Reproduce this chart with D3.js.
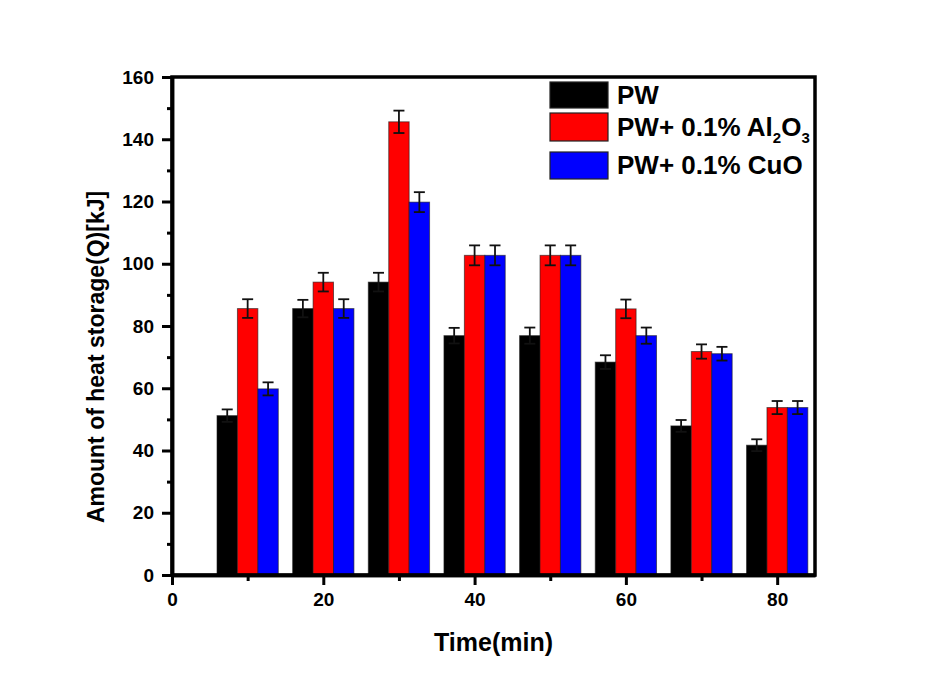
<!DOCTYPE html>
<html>
<head>
<meta charset="utf-8">
<script src="https://cdn.jsdelivr.net/npm/d3@7"></script>
<style>
  body { margin: 0; background: #ffffff; }
  svg { display: block; font-family: "Liberation Sans", Arial, sans-serif; }
</style>
</head>
<body>
<svg id="chart" width="929" height="689"></svg>
<script>
// Heating time (min) for each group of bars
const times = [10, 20, 30, 40, 50, 60, 70, 80];

// Amount of heat stored, kJ
const pwValues   = [51.2, 85.6, 94.1, 76.9, 76.9, 68.4, 47.9, 41.7];
const alValues   = [85.6, 94.1, 145.6, 102.7, 102.7, 85.5, 71.8, 53.8];
const cuoValues  = [59.8, 85.6, 119.8, 102.7, 102.7, 76.9, 71.1, 53.8];

// Error bar half-heights, kJ
const pwErrors   = [2.0, 2.8, 3.0, 2.5, 2.6, 2.2, 1.9, 1.9];
const alErrors   = [3.0, 3.0, 3.6, 3.2, 3.2, 3.0, 2.3, 2.1];
const cuoErrors  = [2.1, 3.0, 3.2, 3.2, 3.2, 2.6, 2.2, 2.1];

const seriesColors = ["#000000", "#ff0000", "#0000ff"];

// Axis ticks
const xMajorTicks = [0, 20, 40, 60, 80];
const xMinorTicks = [10, 30, 50, 70];
const yMajorTicks = [0, 20, 40, 60, 80, 100, 120, 140, 160];
const yMinorTicks = [10, 30, 50, 70, 90, 110, 130, 150];

const series = [
  { values: pwValues,  errors: pwErrors,  color: seriesColors[0] },
  { values: alValues,  errors: alErrors,  color: seriesColors[1] },
  { values: cuoValues, errors: cuoErrors, color: seriesColors[2] }
];

const svg = d3.select("#chart");
const plot = { left: 172, right: 815, top: 77, bottom: 575 };

const x = d3.scaleLinear().domain([0, 85]).range([plot.left, plot.right]);
const y = d3.scaleLinear().domain([0, 160]).range([plot.bottom, plot.top]);

const barWidth = 2.7;           // in minutes
const capHalf = 5.5;            // px

// Bars
series.forEach((s, si) => {
  const offset = (si - 1) * barWidth;
  const g = svg.append("g");
  g.selectAll("rect")
    .data(times.map((t, i) => ({ t, v: s.values[i], e: s.errors[i] })))
    .join("rect")
    .attr("x", d => x(d.t + offset - barWidth / 2))
    .attr("width", d => x(d.t + offset + barWidth / 2) - x(d.t + offset - barWidth / 2))
    .attr("y", d => y(d.v))
    .attr("height", d => y(0) - y(d.v))
    .attr("fill", s.color)
    .attr("stroke", "#1a1a1a")
    .attr("stroke-opacity", 0.6)
    .attr("stroke-width", 1);

  // Error bars
  const eg = svg.append("g").attr("stroke", "#111").attr("stroke-width", 1.8).attr("fill", "none");
  times.forEach((t, i) => {
    const cx = x(t + offset);
    const top = y(s.values[i] + s.errors[i]);
    const bot = y(s.values[i] - s.errors[i]);
    eg.append("line").attr("x1", cx).attr("x2", cx).attr("y1", top).attr("y2", bot);
    eg.append("line").attr("x1", cx - capHalf).attr("x2", cx + capHalf).attr("y1", top).attr("y2", top);
    eg.append("line").attr("x1", cx - capHalf).attr("x2", cx + capHalf).attr("y1", bot).attr("y2", bot);
  });
});

// Frame
svg.append("rect")
  .attr("x", plot.left).attr("y", plot.top)
  .attr("width", plot.right - plot.left).attr("height", plot.bottom - plot.top)
  .attr("fill", "none").attr("stroke", "#000").attr("stroke-width", 3.5);

function styleAxis(g, fontSize) {
  g.select(".domain").attr("stroke", "#000").attr("stroke-width", 3.5);
  g.selectAll(".tick line").attr("stroke", "#000").attr("stroke-width", 3);
  g.selectAll(".tick text")
    .attr("fill", "#000")
    .style("font-size", fontSize + "px")
    .style("font-weight", "bold");
}

// Y axis
const yMinor = svg.append("g").attr("transform", `translate(${plot.left},0)`)
  .call(d3.axisLeft(y).tickValues(yMinorTicks).tickSize(5).tickSizeOuter(0).tickFormat(""));
styleAxis(yMinor, 19);
const yMajor = svg.append("g").attr("transform", `translate(${plot.left},0)`)
  .call(d3.axisLeft(y).tickValues(yMajorTicks).tickSize(10).tickSizeOuter(0).tickPadding(8).tickFormat(d3.format("d")));
styleAxis(yMajor, 19);

// X axis
const xMinor = svg.append("g").attr("transform", `translate(0,${plot.bottom})`)
  .call(d3.axisBottom(x).tickValues(xMinorTicks).tickSize(6).tickSizeOuter(0).tickFormat(""));
styleAxis(xMinor, 19);
const xMajor = svg.append("g").attr("transform", `translate(0,${plot.bottom})`)
  .call(d3.axisBottom(x).tickValues(xMajorTicks).tickSize(10).tickSizeOuter(0).tickPadding(8).tickFormat(d3.format("d")));
styleAxis(xMajor, 19);

// Axis titles
svg.append("text")
  .attr("x", (plot.left + plot.right) / 2)
  .attr("y", 651)
  .attr("text-anchor", "middle")
  .style("font-size", "25px").style("font-weight", "bold")
  .text("Time(min)");

svg.append("text")
  .attr("transform", "translate(104,357) rotate(-90)")
  .attr("text-anchor", "middle")
  .style("font-size", "23px").style("font-weight", "bold")
  .text("Amount of heat storage(Q)[kJ]");

// Legend
const legendRows = [
  { color: seriesColors[0], boxY: 82,  boxH: 26, textY: 104, parts: [["PW", false]] },
  { color: seriesColors[1], boxY: 113, boxH: 28, textY: 136, parts: [["PW+ 0.1% Al", false], ["2", true], ["O", false], ["3", true]] },
  { color: seriesColors[2], boxY: 152, boxH: 27, textY: 174, parts: [["PW+ 0.1% CuO", false]] }
];
const legend = svg.append("g");
legendRows.forEach(r => {
  legend.append("rect")
    .attr("x", 550).attr("y", r.boxY).attr("width", 58).attr("height", r.boxH)
    .attr("fill", r.color).attr("stroke", "#222").attr("stroke-width", 1.2);
  const t = legend.append("text")
    .attr("x", 617).attr("y", r.textY)
    .style("font-size", "26px").style("font-weight", "bold");
  r.parts.forEach(([txt, sub]) => {
    const ts = t.append("tspan").text(txt);
    if (sub) ts.attr("dy", 7).style("font-size", "15px");
    else if (t.selectAll("tspan").size() > 1) ts.attr("dy", -7);
  });
});
</script>
</body>
</html>
